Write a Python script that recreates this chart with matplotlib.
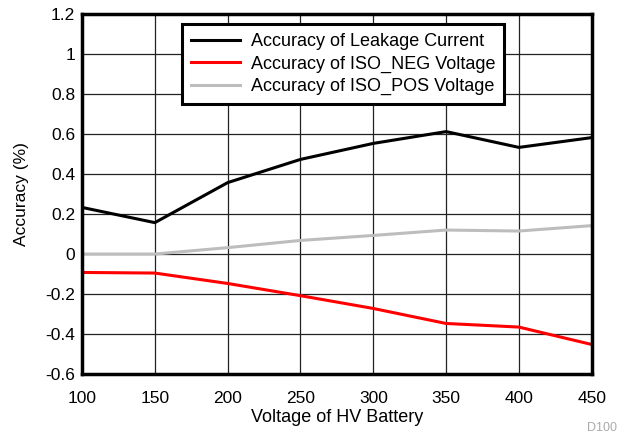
import matplotlib
matplotlib.use("Agg")
import matplotlib.pyplot as plt

plt.rcParams["font.family"] = ["Liberation Sans", "DejaVu Sans"]

# Werte
voltage = [100, 150, 200, 250, 300, 350, 400, 450]
leakage = [0.233, 0.157, 0.357, 0.473, 0.553, 0.612, 0.533, 0.582]
iso_neg = [-0.092, -0.095, -0.147, -0.208, -0.272, -0.347, -0.365, -0.452]
iso_pos = [0.0, 0.0, 0.032, 0.068, 0.093, 0.120, 0.115, 0.142]

fig = plt.figure(figsize=(6.19, 4.36), dpi=100)
ax = fig.add_axes([0.1325, 0.142, 0.8235, 0.826])

ax.plot(voltage, leakage, color="black", lw=2.2, label="Accuracy of Leakage Current")
ax.plot(voltage, iso_neg, color="#ff0000", lw=2.2, label="Accuracy of ISO_NEG Voltage")
ax.plot(voltage, iso_pos, color="#bdbdbd", lw=2.2, label="Accuracy of ISO_POS Voltage")

ax.set_xlim(100, 450)
ax.set_ylim(-0.6, 1.2)
ax.set_xticks(voltage)
yt = [-0.6, -0.4, -0.2, 0, 0.2, 0.4, 0.6, 0.8, 1, 1.2]
ax.set_yticks(yt)
ax.set_yticklabels(["-0.6", "-0.4", "-0.2", "0", "0.2", "0.4", "0.6", "0.8", "1", "1.2"])
ax.grid(True, color="#222222", lw=0.9)
ax.set_axisbelow(True)
ax.tick_params(length=0, labelsize=12.5)
ax.tick_params(axis="x", pad=12)
ax.tick_params(axis="y", pad=5)
for s in ax.spines.values():
    s.set_linewidth(2.5)

ax.set_xlabel("Voltage of HV Battery", fontsize=13, labelpad=2)
ax.set_ylabel("Accuracy (%)", fontsize=12.5, labelpad=12)

leg = ax.legend(loc="upper left", bbox_to_anchor=(0.196, 0.972), fontsize=13,
                frameon=True, fancybox=False, framealpha=1, edgecolor="black",
                handlelength=2.7, handletextpad=0.6, borderpad=0.5,
                labelspacing=0.3, borderaxespad=0)
leg.get_frame().set_linewidth(2.2)

fig.text(0.948, 0.012, "D100", color="#aaaaaa", fontsize=9, ha="left")

fig.savefig("out.png", dpi=100)
